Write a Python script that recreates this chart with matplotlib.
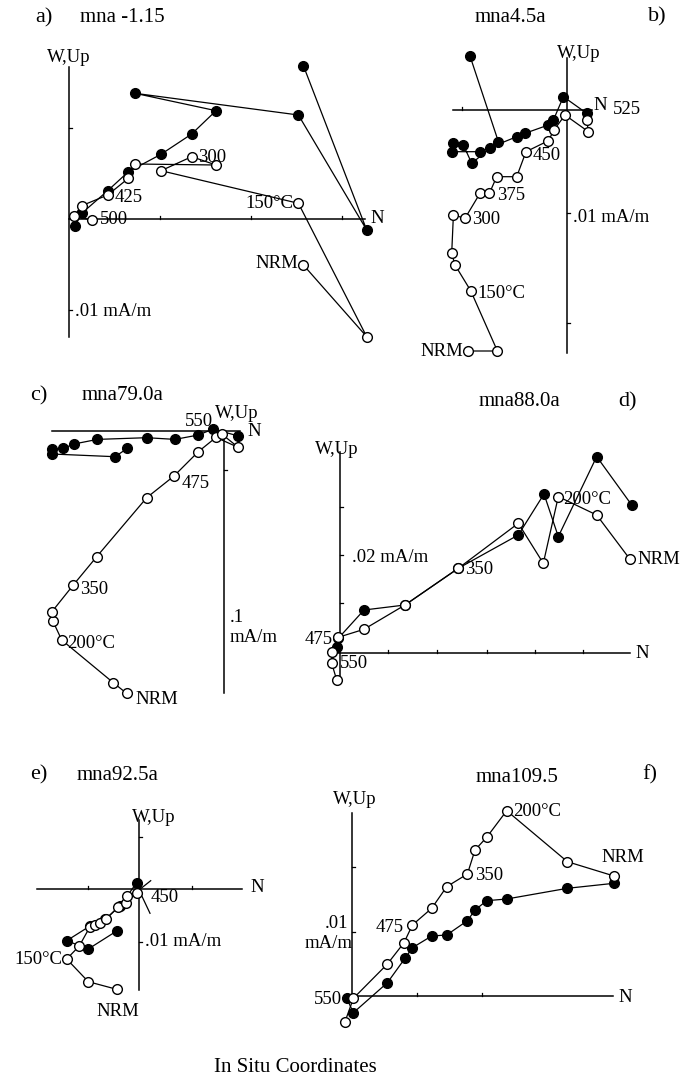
import matplotlib
matplotlib.use("Agg")
import matplotlib.pyplot as plt

# Zijderveld plots, six samples. units: plot pixels from each panel origin
# filled = horizontal projection (N, W), open = vertical projection (N, Up)

a_hor_x = [234.7, 298, 229.7, 66.3, 147.3, 123, 92.3, 59.7, 39, 13, 6.3]
a_hor_y = [153.3, -11, 104, 125.7, 108.3, 85, 64.7, 47.3, 28.3, 5.7, -7]
a_ver_x = [234.7, 298, 229.7, 92.3, 123, 147.3, 66.3, 59.7, 39, 13, 5.3, 23]
a_ver_y = [-46, -117.7, 15.7, 48.3, 62.3, 54, 55, 40.7, 24, 13.3, 3, -1]

b_hor_x = [-96.7, -68.3, -76.7, -95, -103.3, -113.3, -115, -86.7, -50, -41.7, -18.3, -13.3, -3.3, 20]
b_hor_y = [54, -31.7, -38.3, -53.3, -35, -33.3, -41.7, -41.7, -26.7, -23.3, -15, -10, 13.3, -3.3]
b_ver_x = [-98.3, -69.3, -96, -111.7, -115, -113.3, -101.7, -86.7, -77.3, -70, -50, -40.7, -18.3, -12.7, -1.7, 21.7, 20]
b_ver_y = [-241, -241, -180.7, -155, -143.3, -105, -108.3, -83.3, -83.3, -66.7, -66.7, -41.7, -30.7, -20, -5, -21.7, -10]

c_hor_x = [-96.7, -109, -172.3, -172.3, -160.7, -150, -126.7, -77.3, -49, -25.7, -10.7, 14.3]
c_hor_y = [-17.7, -26, -23.3, -18.7, -17.7, -13.3, -8.7, -7, -8.7, -4.3, 1.7, -5.3]
c_ver_x = [-97.3, -110.7, -162.3, -171.3, -172.3, -150.7, -127.3, -77.3, -50, -25.7, -8, 14.3, -2.3]
c_ver_y = [-262.7, -252, -209.3, -190, -181.3, -154.3, -126, -67, -45.3, -21, -6.7, -16.7, -3.3]

d_hor_x = [291.7, 256.7, 218.3, 204, 178.3, 118.3, 65, 24, -1.7, -3.3]
d_hor_y = [148.3, 196.7, 116.7, 159.3, 118.3, 85, 48.3, 43.3, 15, 6.7]
d_ver_x = [290, 256.7, 218.3, 203.3, 178.3, 118.3, 65, 24, -1.7, -8.3, -8.3, -3.3]
d_ver_y = [94, 138.3, 156.7, 90, 130, 85, 48.3, 24, 16, 1.7, -10, -26.7]

e_hor_x = [-22.3, -50.7, -72.3, -49, -34, -19, -2.3]
e_hor_y = [-42, -60, -51.7, -37, -30.3, -17, 6.3]
e_ver_x = [-22.3, -50.7, -72.3, -59.7, -49, -44, -39, -33, -20.7, -13, -11.7, -1.7]
e_ver_y = [-100.3, -92.7, -70, -57, -37.7, -36, -33.7, -30.3, -17.7, -13.7, -7, -4.3]
e_fit_x = [11.7, 0, 11]
e_fit_y = [8.3, -1, -24.3]

f_hor_x = [262.3, 215.7, 155, 135, 123.3, 115.7, 95, 80, 60.7, 53.3, 35.7, 1.7, -5]
f_hor_y = [112.7, 107.7, 97, 95.3, 86, 75.3, 61, 60, 48.3, 37.7, 13.3, -16.7, -2.3]
f_ver_x = [262.3, 215.7, 155, 135, 123.3, 115.7, 95, 80, 60.7, 52.3, 35.7, 1.7, -6.7]
f_ver_y = [120, 134.3, 185.3, 158.7, 146, 122, 109.3, 87.7, 71, 53.3, 32, -2.3, -25.7]

W, H = 681, 1078
fig = plt.figure(figsize=(W / 100, H / 100), dpi=100)
FONT = ['Liberation Serif', 'DejaVu Serif']


def txt(x, y, s, size=13.5, ha='left'):
    fig.text(x / W, 1 - y / H, s, ha=ha, va='center', fontsize=size, family=FONT)


def panel(ox, oy, hor, ver, hticks, vticks, hor_x, hor_y, ver_x, ver_y):
    ax = fig.add_axes([0, 0, 1, 1])
    ax.set_xlim(-ox, W - ox)
    ax.set_ylim(oy - H, oy)
    ax.axis('off')
    ax.patch.set_alpha(0)
    ax.plot(hor, [0, 0], color='k', lw=1.1)
    ax.plot([0, 0], ver, color='k', lw=1.1)
    for t in hticks:
        ax.plot([t, t], [0, 3], color='k', lw=0.9)
    for t in vticks:
        ax.plot([0, 3], [t, t], color='k', lw=0.9)
    ax.plot(hor_x, hor_y, '-', color='k', lw=0.9, zorder=2)
    ax.plot(ver_x, ver_y, '-', color='k', lw=0.9, zorder=2)
    ax.plot(hor_x, hor_y, 'o', ms=7, mfc='k', mec='k', mew=1, zorder=3)
    ax.plot(ver_x, ver_y, 'o', ms=7, mfc='white', mec='k', mew=1, zorder=4)
    return ax


# a
panel(68.7, 219, [0, 296], [152, -118], [91, 182, 273], [91, -91],
      a_hor_x, a_hor_y, a_ver_x, a_ver_y)
txt(35, 18, 'a)', 16)
txt(80, 18, 'mna -1.15', 15)
txt(69, 57, 'W,Up', ha='center')
txt(370, 219, 'N')
txt(75, 312, '.01 mA/m')
txt(198, 157, '300')
txt(115, 197, '425')
txt(100, 220, '500')
txt(293, 204, '150°C', ha='right')
txt(298, 264, 'NRM', ha='right')

# b
panel(566.7, 110, [-113.7, 25], [52, -243], [-105], [-103, -213],
      b_hor_x, b_hor_y, b_ver_x, b_ver_y)
txt(510, 18, 'mna4.5a', 15, ha='center')
txt(648, 17, 'b)', 16)
txt(579, 53, 'W,Up', ha='center')
txt(593, 106, 'N')
txt(613, 110, '525')
txt(573, 218, '.01 mA/m')
txt(533, 155, '450')
txt(497, 195, '375')
txt(472, 220, '300')
txt(477, 293, '150°C')
txt(463, 351, 'NRM', ha='right')

# c
panel(224, 430.7, [-172, 16], [0, -262.3], [], [-39],
      c_hor_x, c_hor_y, c_ver_x, c_ver_y)
txt(30, 396, 'c)', 16)
txt(82, 396, 'mna79.0a', 15)
txt(237, 413, 'W,Up', ha='center')
txt(247, 432, 'N')
txt(199, 421, '550', ha='center')
txt(182, 483, '475')
txt(80, 590, '350')
txt(67, 643, '200°C')
txt(135, 700, 'NRM')
txt(230, 618, '.1')
txt(230, 638, 'mA/m')

# d
panel(340, 653.3, [-7, 290], [201.6, -23.4], [48.3, 96.7, 146.7, 195, 243.3],
      [50, 98.3, 146.7], d_hor_x, d_hor_y, d_ver_x, d_ver_y)
txt(519, 402, 'mna88.0a', 15, ha='center')
txt(618, 402, 'd)', 16)
txt(337, 449, 'W,Up', ha='center')
txt(635, 653, 'N')
txt(352, 557, '.02 mA/m')
txt(563, 500, '200°C')
txt(465, 570, '350')
txt(637, 560, 'NRM')
txt(333, 640, '475', ha='right')
txt(340, 664, '550')

# e
ax_e = panel(139, 889, [-102.3, 102.7], [69, -101], [-51, 53], [52, -53],
             e_hor_x, e_hor_y, e_ver_x, e_ver_y)
ax_e.plot(e_fit_x, e_fit_y, color='k', lw=0.9)
txt(30, 775, 'e)', 16)
txt(77, 775, 'mna92.5a', 15)
txt(154, 817, 'W,Up', ha='center')
txt(250, 888, 'N')
txt(151, 898, '450')
txt(145, 942, '.01 mA/m')
txt(62, 960, '150°C', ha='right')
txt(118, 1012, 'NRM', ha='center')

# f
panel(351.7, 996, [0, 261], [183, 0], [65, 130.7], [64.3, 129.3],
      f_hor_x, f_hor_y, f_ver_x, f_ver_y)
txt(517, 777, 'mna109.5', 15, ha='center')
txt(642, 775, 'f)', 16)
txt(355, 800, 'W,Up', ha='center')
txt(618, 997, 'N')
txt(513, 811, '200°C')
txt(475, 875, '350')
txt(623, 857, 'NRM', ha='center')
txt(404, 928, '475', ha='right')
txt(336, 924, '.01', ha='center')
txt(329, 943, 'mA/m', ha='center')
txt(342, 1000, '550', ha='right')

txt(295, 1067, 'In Situ Coordinates', 15, ha='center')

fig.savefig('out.png', dpi=100)
